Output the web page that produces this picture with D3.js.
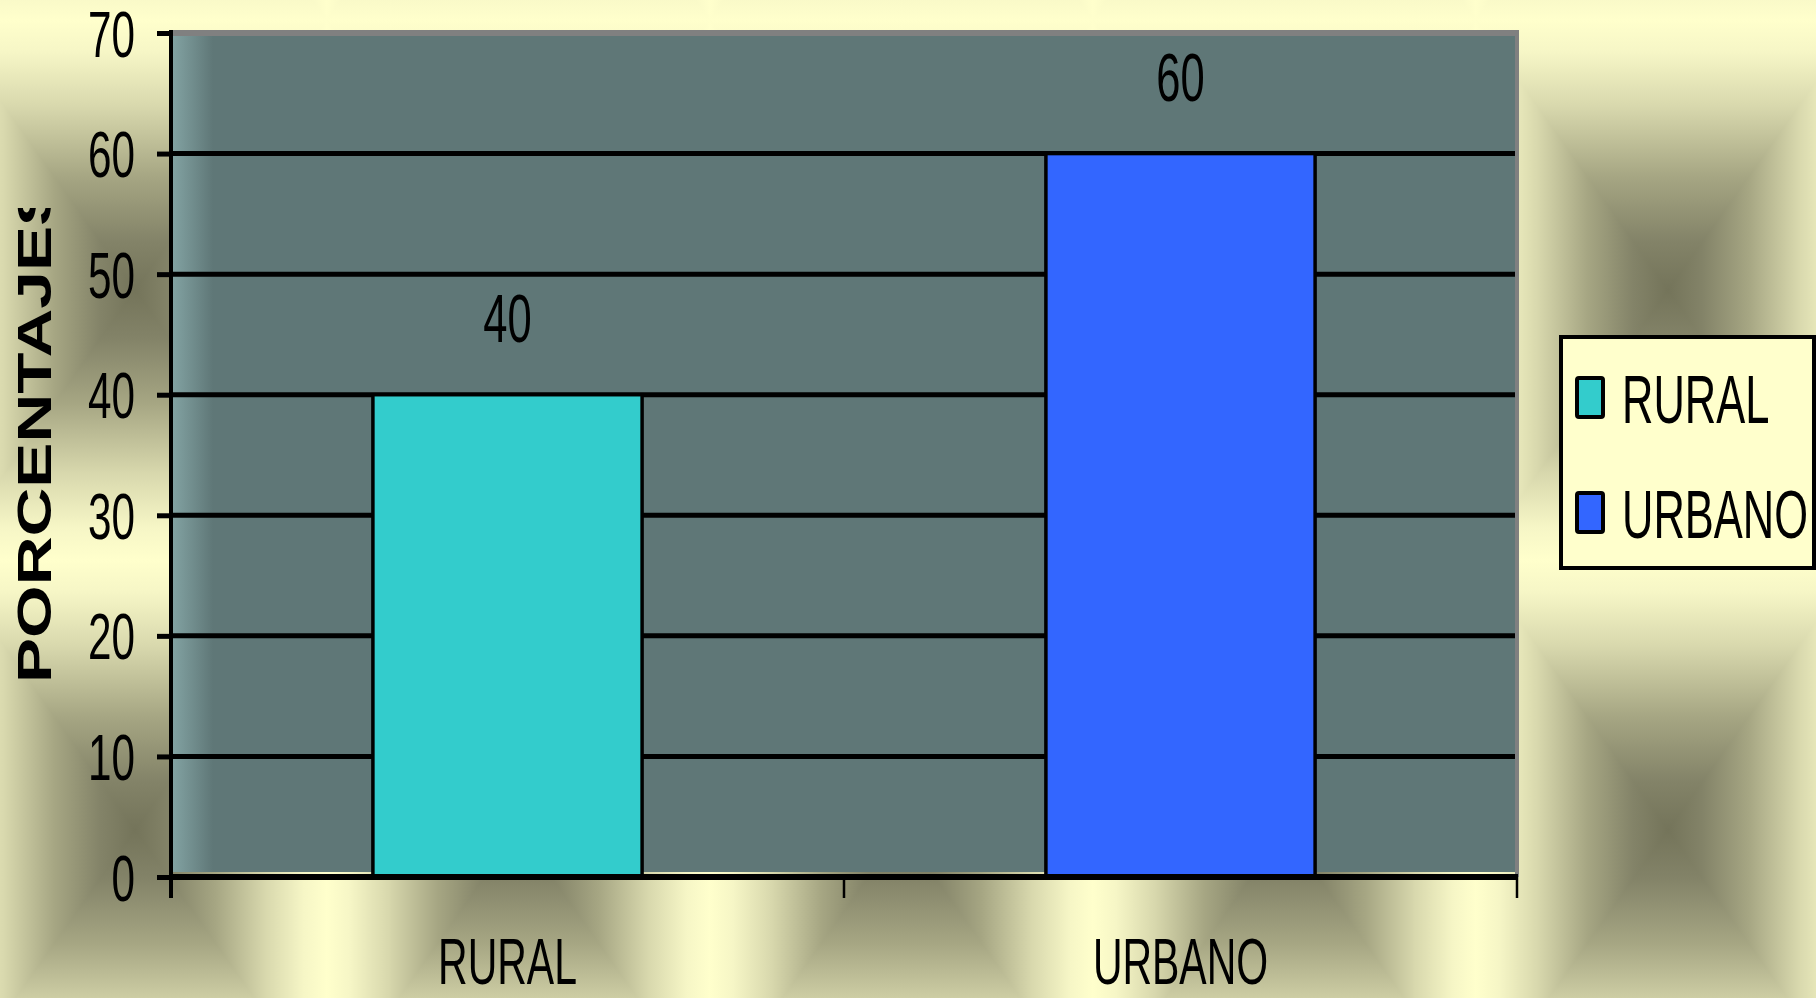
<!DOCTYPE html>
<html>
<head>
<meta charset="utf-8">
<script src="https://cdn.jsdelivr.net/npm/d3@7"></script>
<style>
  html, body { margin: 0; padding: 0; overflow: hidden; background: #ffffcc; }
  text { font-family: "Liberation Sans", Arial, sans-serif; }
</style>
</head>
<body>
<script>
// ---- data ----
const categories = ["RURAL", "URBANO"];
const values = [40, 60];
const seriesColors = ["#33CCCC", "#3366FF"];
const yTicks = [0, 10, 20, 30, 40, 50, 60, 70];
const yTitle = "PORCENTAJES";

// ---- layout ----
const WIDTH = 1816, HEIGHT = 998;
const L = 171, R = 1517, T = 33, B = 877;

const svg = d3.select("body").append("svg")
  .attr("width", WIDTH).attr("height", HEIGHT);
const defs = svg.append("defs");

// background tiled "from centre" gradient
const TW = 383.25, TH = 540, cx = TW / 2, cy = TH / 2;
const bgStops = [
  [0, "#74745a"], [0.18, "#838368"], [0.42, "#a6a683"],
  [0.68, "#d8d8ad"], [0.88, "#f6f6c6"], [1, "#ffffcc"]
];
const grads = [
  { id: "gT", x2: cx, y2: 0, pts: [[0, 0], [TW, 0], [cx, cy]] },
  { id: "gB", x2: cx, y2: TH, pts: [[0, TH], [TW, TH], [cx, cy]] },
  { id: "gL", x2: 0, y2: cy, pts: [[0, 0], [0, TH], [cx, cy]] },
  { id: "gR", x2: TW, y2: cy, pts: [[TW, 0], [TW, TH], [cx, cy]] }
];
grads.forEach(g => {
  const lg = defs.append("linearGradient").attr("id", g.id)
    .attr("gradientUnits", "userSpaceOnUse")
    .attr("x1", cx).attr("y1", cy).attr("x2", g.x2).attr("y2", g.y2);
  bgStops.forEach(s => lg.append("stop").attr("offset", s[0]).attr("stop-color", s[1]));
});
const pat = defs.append("pattern").attr("id", "bgp")
  .attr("patternUnits", "userSpaceOnUse")
  .attr("x", 135 - cx).attr("y", 290 - cy)
  .attr("width", TW).attr("height", TH);
grads.forEach(g => {
  pat.append("polygon").attr("points", g.pts.map(p => p.join(",")).join(" "))
    .attr("fill", `url(#${g.id})`).attr("shape-rendering", "crispEdges");
});
svg.append("rect").attr("width", WIDTH).attr("height", HEIGHT).attr("fill", "url(#bgp)");

// plot area gradient
const pg = defs.append("linearGradient").attr("id", "plotg")
  .attr("gradientUnits", "userSpaceOnUse")
  .attr("x1", L + 2).attr("x2", L + 42).attr("y1", 0).attr("y2", 0);
pg.append("stop").attr("offset", 0).attr("stop-color", "#82a2a2");
pg.append("stop").attr("offset", 1).attr("stop-color", "#5f7777");

// ---- scales ----
const y = d3.scaleLinear().domain([0, 70]).range([B, T]);
const x = d3.scaleBand().domain(categories).range([L, R])
  .paddingInner(0.6).paddingOuter(0.3);

// plot area
svg.append("rect").attr("x", L).attr("y", T).attr("width", R - L).attr("height", B - 5 - T)
  .attr("fill", "url(#plotg)");
svg.append("line").attr("x1", L).attr("x2", R + 2).attr("y1", T).attr("y2", T)
  .attr("stroke", "#808080").attr("stroke-width", 6);
svg.append("line").attr("x1", R).attr("x2", R).attr("y1", T - 3).attr("y2", B)
  .attr("stroke", "#808080").attr("stroke-width", 4);

// gridlines
svg.append("g").selectAll("line")
  .data(yTicks.filter(t => t > 0 && t < 70))
  .join("line")
  .attr("x1", L).attr("x2", R - 2)
  .attr("y1", d => y(d)).attr("y2", d => y(d))
  .attr("stroke", "#000").attr("stroke-width", 5);

// bars
svg.append("g").selectAll("rect")
  .data(categories)
  .join("rect")
  .attr("x", d => x(d)).attr("width", x.bandwidth())
  .attr("y", (d, i) => y(values[i])).attr("height", (d, i) => y(0) - y(values[i]))
  .attr("fill", (d, i) => seriesColors[i])
  .attr("stroke", "#000").attr("stroke-width", 3.5);

// value labels
svg.append("g").selectAll("text")
  .data(categories)
  .join("text")
  .attr("transform", (d, i) => `translate(${x(d) + x.bandwidth() / 2},${y(values[i]) - 53}) scale(0.64,1)`)
  .attr("text-anchor", "middle")
  .attr("font-size", 68)
  .attr("fill", "#000")
  .text((d, i) => values[i]);

// y axis
const yAxis = svg.append("g").attr("transform", `translate(${L},0)`)
  .call(d3.axisLeft(y).tickValues(yTicks).tickSize(14).tickFormat(d3.format("d")));
yAxis.select(".domain").remove();
yAxis.selectAll(".tick line").attr("stroke", "#000").attr("stroke-width", 5);
yAxis.selectAll(".tick text")
  .attr("x", null).attr("dy", null)
  .attr("transform", "translate(-36,23) scale(0.66,1)")
  .attr("text-anchor", "end")
  .attr("font-size", 64)
  .attr("font-family", "'Liberation Sans', Arial, sans-serif")
  .attr("fill", "#000");
svg.append("line").attr("x1", L).attr("x2", L).attr("y1", T - 3).attr("y2", B + 21)
  .attr("stroke", "#000").attr("stroke-width", 4);

// x axis
const xAxis = svg.append("g").attr("transform", `translate(0,${B})`)
  .call(d3.axisBottom(x).tickSize(0));
xAxis.select(".domain").remove();
xAxis.selectAll(".tick text")
  .attr("y", null).attr("dy", null)
  .attr("transform", "translate(0,107) scale(0.64,1)")
  .attr("font-size", 64)
  .attr("font-family", "'Liberation Sans', Arial, sans-serif")
  .attr("fill", "#000");
svg.append("line").attr("x1", L).attr("x2", R + 1).attr("y1", B).attr("y2", B)
  .attr("stroke", "#000").attr("stroke-width", 6);
const bounds = categories.map(c => x(c) - x.step() * x.paddingInner() / 2);
bounds.push(bounds[bounds.length - 1] + x.step());
svg.append("g").selectAll("line")
  .data(bounds.slice(1))
  .join("line")
  .attr("x1", d => d).attr("x2", d => d)
  .attr("y1", B).attr("y2", B + 21)
  .attr("stroke", "#000").attr("stroke-width", 2.5);

// y title (top clipped like the reference)
defs.append("clipPath").attr("id", "titleclip")
  .append("rect").attr("x", 0).attr("y", 208).attr("width", 120).attr("height", 800);
svg.append("g").attr("clip-path", "url(#titleclip)")
  .append("text")
  .attr("transform", "translate(33,683) rotate(-90) scale(1.38,1)")
  .attr("x", 0).attr("y", 17.5)
  .attr("font-size", 49).attr("font-weight", "bold")
  .attr("fill", "#000")
  .text(yTitle);

// legend
const lg = svg.append("g");
lg.append("rect").attr("x", 1561).attr("y", 337).attr("width", 253).attr("height", 231)
  .attr("fill", "#ffffcc").attr("stroke", "#000").attr("stroke-width", 4);
const legY = [423, 538];
lg.selectAll("rect.sw")
  .data(categories)
  .join("rect").attr("class", "sw")
  .attr("x", 1577).attr("y", (d, i) => legY[i] - 45)
  .attr("width", 26).attr("height", 39).attr("rx", 2)
  .attr("fill", (d, i) => seriesColors[i])
  .attr("stroke", "#000").attr("stroke-width", 4);
lg.selectAll("text")
  .data(categories)
  .join("text")
  .attr("transform", (d, i) => `translate(1622,${legY[i]}) scale(0.63,1)`)
  .attr("font-size", 69)
  .attr("fill", "#000")
  .text(d => d);
</script>
</body>
</html>
